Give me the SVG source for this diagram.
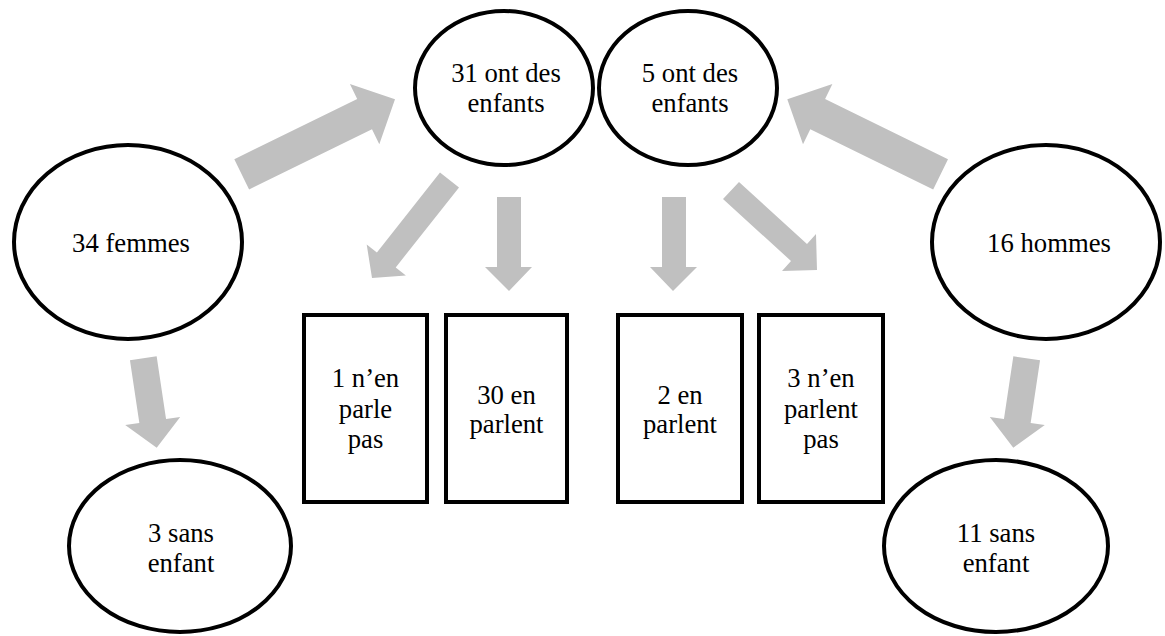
<svg xmlns="http://www.w3.org/2000/svg" width="1165" height="636" viewBox="0 0 1165 636">
<style>
.n{fill:#ffffff;stroke:#000000;stroke-width:4}
.a{fill:#c0c0c0;stroke:none}
text{font-family:"Liberation Serif",serif;font-size:26.7px;fill:#000000;text-anchor:middle}
</style>
<rect width="1165" height="636" fill="#ffffff"/>
<g id="connectors">
<polygon class="a" points="234.3,159.2 357.2,99 349.9,84 395,99.3 379.3,144.2 372,129.2 249.1,189.4"/>
<polygon class="a" points="948,159.2 825.1,99 832.4,84 787.3,99.3 803,144.2 810.3,129.2 933.2,189.4"/>
<polygon class="a" points="440,172.6 459,187.4 395.7,267.4 405.9,275.5 372,278 366.7,244.5 376.9,252.6"/>
<polygon class="a" points="497,197 521,197 521,267 532,267 509,291 485,267 497,267"/>
<polygon class="a" points="662,197 686,197 686,267 697,267 673,291 650,267 662,267"/>
<polygon class="a" points="723,199 739,182 807,244 816,234 817,270 782,271 791,261"/>
<polygon class="a" points="129.95,360.3 156.65,356.3 166.05,419 180.2,416.9 156.7,447.7 125.2,425.1 139.35,423"/>
<polygon class="a" points="1040.05,360.3 1013.35,356.3 1003.95,419 989.8,416.9 1013.3,447.7 1044.8,425.1 1030.65,423"/>
</g>
<g id="femmes">
<ellipse class="n" cx="128" cy="242" rx="114" ry="97"/>
<text x="131" y="252">34 femmes</text>
</g>
<g id="hommes">
<ellipse class="n" cx="1046" cy="242" rx="114" ry="97"/>
<text x="1049" y="252">16 hommes</text>
</g>
<g id="femmes-enfants">
<ellipse class="n" cx="504" cy="88" rx="89" ry="77"/>
<text x="506" y="82">31 ont des</text>
<text x="506" y="112">enfants</text>
</g>
<g id="hommes-enfants">
<ellipse class="n" cx="688" cy="88" rx="89" ry="77"/>
<text x="690" y="82">5 ont des</text>
<text x="690" y="112">enfants</text>
</g>
<g id="femmes-sans">
<ellipse class="n" cx="180" cy="546" rx="111" ry="86"/>
<text x="181" y="542">3 sans</text>
<text x="181" y="572">enfant</text>
</g>
<g id="hommes-sans">
<ellipse class="n" cx="996" cy="546" rx="112" ry="86"/>
<text x="996" y="542">11 sans</text>
<text x="996" y="572">enfant</text>
</g>
<g id="femmes-pas">
<rect class="n" x="304" y="315" width="123" height="187"/>
<text x="365.5" y="387">1 n’en</text>
<text x="365.5" y="417.5">parle</text>
<text x="365.5" y="448">pas</text>
</g>
<g id="femmes-parlent">
<rect class="n" x="446" y="315" width="121" height="187"/>
<text x="506.5" y="404">30 en</text>
<text x="506.5" y="433">parlent</text>
</g>
<g id="hommes-parlent">
<rect class="n" x="618" y="315" width="124" height="187"/>
<text x="680" y="404">2 en</text>
<text x="680" y="433">parlent</text>
</g>
<g id="hommes-pas">
<rect class="n" x="759" y="315" width="124" height="187"/>
<text x="821" y="387">3 n’en</text>
<text x="821" y="417.5">parlent</text>
<text x="821" y="448">pas</text>
</g>
</svg>
